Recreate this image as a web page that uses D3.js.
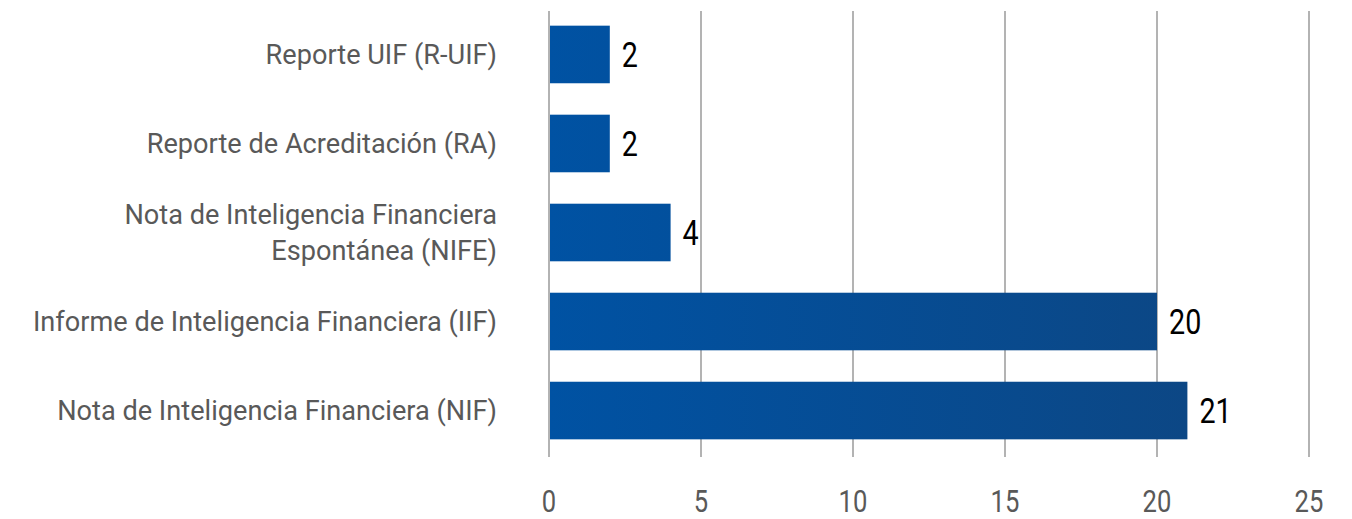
<!DOCTYPE html>
<html>
<head>
<meta charset="utf-8">
<script src="https://cdn.jsdelivr.net/npm/d3@7"></script>
<style>
  html, body { margin: 0; padding: 0; background: #fff; }
  svg { display: block; }
  text { font-family: "Roboto", "Noto Sans", sans-serif; }
</style>
</head>
<body>
<svg id="chart" width="1352" height="519"></svg>
<script>
// Report types (top to bottom) and counts
const categories = [
  ["Reporte UIF (R-UIF)"],
  ["Reporte de Acreditación (RA)"],
  ["Nota de Inteligencia Financiera", "Espontánea (NIFE)"],
  ["Informe de Inteligencia Financiera (IIF)"],
  ["Nota de Inteligencia Financiera (NIF)"]
];
const values = [2, 2, 4, 20, 21];
const xTicks = [0, 5, 10, 15, 20, 25];

const svg = d3.select("#chart");
const margin = { left: 549, right: 43, top: 10, bottom: 64 };
const W = 1352, H = 519;

// Horizontal narrowing for a condensed look
const labelNarrow = 0.97;
const valueNarrow = 0.82;
const tickNarrow = 0.8;

const x = d3.scaleLinear().domain([0, 25]).range([margin.left, W - margin.right]);
const y = d3.scaleBand()
  .domain(d3.range(categories.length))
  .range([margin.top, H - margin.bottom])
  .paddingInner(0.353)
  .paddingOuter(0.176);

// Horizontal gradient shared by all bars
const defs = svg.append("defs");
const grad = defs.append("linearGradient")
  .attr("id", "barGrad")
  .attr("gradientUnits", "userSpaceOnUse")
  .attr("x1", x(0)).attr("x2", x(21)).attr("y1", 0).attr("y2", 0);
grad.append("stop").attr("offset", "0%").attr("stop-color", "#0052a3");
grad.append("stop").attr("offset", "100%").attr("stop-color", "#0c4785");

// Vertical gridlines
const gridTop = margin.top + 1, gridBottom = 457;
svg.append("g").selectAll("line")
  .data(xTicks)
  .join("line")
  .attr("x1", d => x(d)).attr("x2", d => x(d))
  .attr("y1", gridTop).attr("y2", gridBottom)
  .attr("stroke", "#b3b3b3")
  .attr("stroke-width", 2);

// Tick labels
svg.append("g").selectAll("text")
  .data(xTicks)
  .join("text")
  .attr("transform", d => `translate(${x(d)},512) scale(${tickNarrow},1)`)
  .attr("text-anchor", "middle")
  .attr("fill", "#595959")
  .attr("font-size", 32)
  .text(d => d);

// Bars
svg.append("g").selectAll("rect")
  .data(values)
  .join("rect")
  .attr("x", x(0) + 1)
  .attr("y", (d, i) => y(i))
  .attr("width", d => x(d) - x(0) - 1)
  .attr("height", y.bandwidth())
  .attr("fill", "url(#barGrad)");

// Value labels
svg.append("g").selectAll("text")
  .data(values)
  .join("text")
  .attr("transform", (d, i) => `translate(${x(d) + 12},${y(i) + y.bandwidth() / 2 + 12.5}) scale(${valueNarrow},1)`)
  .attr("fill", "#000")
  .attr("font-size", 35)
  .text(d => d);

// Category labels
const lineH = 36;
svg.append("g").selectAll("text")
  .data(categories)
  .join("text")
  .attr("text-anchor", "end")
  .attr("fill", "#595959")
  .attr("font-size", 28)
  .attr("transform", (lines, i) => {
    const cy = y(i) + y.bandwidth() / 2;
    const y0 = cy - (lines.length - 1) * lineH / 2 + 9.5;
    return `translate(497,${y0}) scale(${labelNarrow},1)`;
  })
  .each(function (lines) {
    d3.select(this).selectAll("tspan")
      .data(lines)
      .join("tspan")
      .attr("x", 0)
      .attr("y", (l, j) => j * lineH)
      .text(l => l);
  });
</script>
</body>
</html>
